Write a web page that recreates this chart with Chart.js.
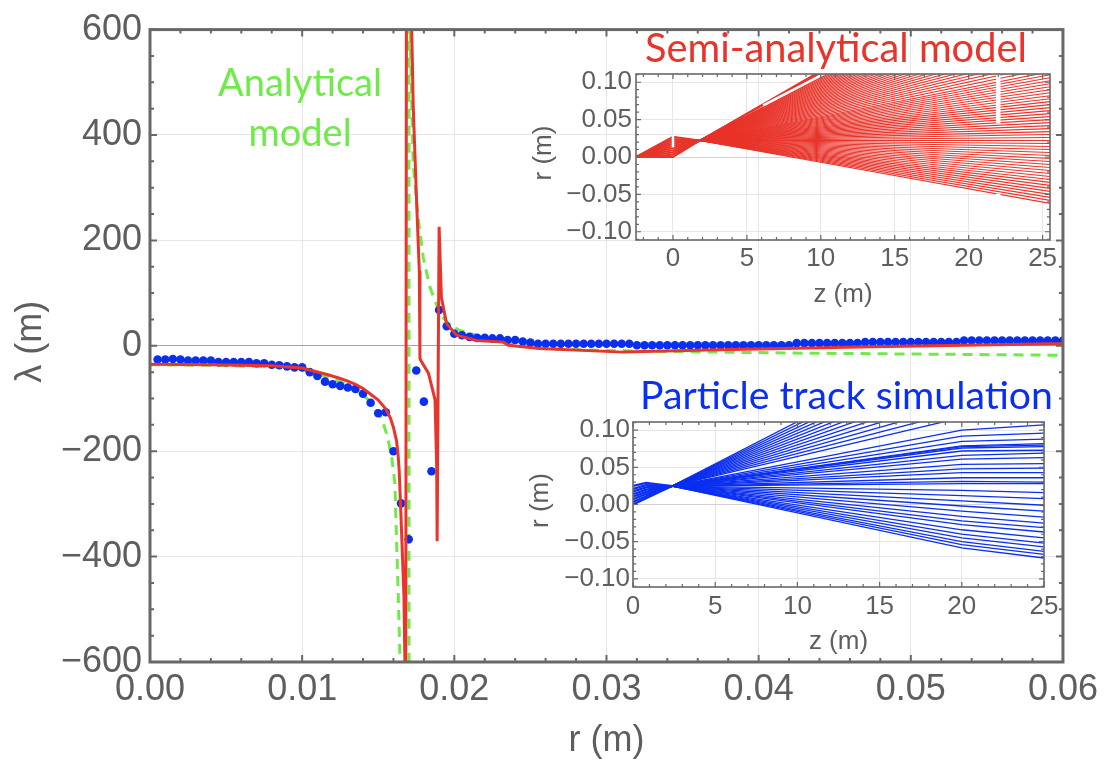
<!DOCTYPE html>
<html>
<head>
<meta charset="utf-8">
<title>lambda vs r</title>
<script src="https://cdn.jsdelivr.net/npm/chart.js@4.4.1/dist/chart.umd.min.js"></script>
<style>
  html, body { margin: 0; padding: 0; background: #fff; }
  #stage { position: relative; width: 1104px; height: 761px; overflow: hidden; }
  #stage canvas { position: absolute; }
</style>
</head>
<body>
<div id="stage">
  <canvas id="mainChart" width="1104" height="761" style="left:0;top:0"></canvas>
  <canvas id="semiChart" width="580" height="280" style="left:500px;top:40px"></canvas>
  <canvas id="trackChart" width="580" height="290" style="left:500px;top:390px"></canvas>
</div>
<script>
// ---- main plot: lambda (m) against r (m) ----
const rTicks = [0, 0.01, 0.02, 0.03, 0.04, 0.05, 0.06];
const lambdaTicks = [-600, -400, -200, 0, 200, 400, 600];

// particle track simulation (blue dots)
const dotR = [
  0.0005, 0.0010, 0.0015, 0.0020, 0.0025, 0.0030, 0.0035, 0.0040, 0.0045, 0.0050,
  0.0055, 0.0060, 0.0065, 0.0070, 0.0075, 0.0080, 0.0085, 0.0090, 0.0095, 0.0100,
  0.0105, 0.0110, 0.0115, 0.0120, 0.0125, 0.0130, 0.0135, 0.0140, 0.0145, 0.0150,
  0.0155, 0.0160, 0.0165, 0.0170, 0.0175, 0.0180, 0.0185, 0.0190, 0.0195, 0.0200,
  0.0205, 0.0210, 0.0215, 0.0220, 0.0225, 0.0230, 0.0235, 0.0240, 0.0245, 0.0250,
  0.0255, 0.0260, 0.0265, 0.0270, 0.0275, 0.0280, 0.0285, 0.0290, 0.0295, 0.0300,
  0.0305, 0.0310, 0.0315, 0.0320, 0.0325, 0.0330, 0.0335, 0.0340, 0.0345, 0.0350,
  0.0355, 0.0360, 0.0365, 0.0370, 0.0375, 0.0380, 0.0385, 0.0390, 0.0395, 0.0400,
  0.0405, 0.0410, 0.0415, 0.0420, 0.0425, 0.0430, 0.0435, 0.0440, 0.0445, 0.0450,
  0.0455, 0.0460, 0.0465, 0.0470, 0.0475, 0.0480, 0.0485, 0.0490, 0.0495, 0.0500,
  0.0505, 0.0510, 0.0515, 0.0520, 0.0525, 0.0530, 0.0535, 0.0540, 0.0545, 0.0550,
  0.0555, 0.0560, 0.0565, 0.0570, 0.0575, 0.0580, 0.0585, 0.0590, 0.0595, 0.0600
];
const dotLambda = [
  -26, -26, -25, -26, -28, -28, -28, -28, -31, -31,
  -31, -31, -31, -33, -33, -36, -37, -39, -41, -41,
  -50, -57, -68, -73, -76, -79, -82, -91, -108, -128,
  -126, -200, -299, -367, -47, -106, -238, 68, 37, 23,
  20, 17, 15, 15, 14, 14, 11, 11, 8, 6,
  4, 4, 4, 4, 4, 4, 4, 4, 4, 4,
  4, 4, 4, 1, 1, 1, 1, 1, 1, 1,
  1, 1, 1, 1, 1, 1, 1, 1, 1, 1,
  1, 1, 1, 1, 5, 5, 5, 5, 5, 5,
  5, 5, 5, 7, 7, 7, 7, 7, 7, 7,
  7, 7, 7, 7, 7, 7, 10, 10, 10, 10,
  10, 10, 10, 10, 10, 10, 10, 10, 10, 10
];

// semi-analytical model (red line)
const semiR = [
  0, 0.004, 0.006, 0.008, 0.010, 0.0117, 0.0125, 0.0130, 0.0135, 0.0140,
  0.0145, 0.0150, 0.0155, 0.0158, 0.0160, 0.0162, 0.0163, 0.01638, 0.0165, 0.01669,
  0.01675, 0.0168, 0.01686, 0.0170, 0.0172, 0.0173, 0.01753, 0.0177, 0.01774, 0.01774,
  0.0178, 0.0183, 0.01873, 0.01884, 0.01887, 0.0190, 0.01915, 0.01949, 0.02015, 0.02147,
  0.02322, 0.02355, 0.0256, 0.0311, 0.0366, 0.0475, 0.0594, 0.0600
];
const semiLambda = [
  -35, -36, -37, -38, -42, -55, -62, -67, -73, -81,
  -92, -103, -120, -137, -155, -180, -205, -239, -327, -477,
  -596, -900, 900, 900, 600, 454, 267, 142, -1, -24,
  -28, -52, -102, -227, -371, 226, 92, 42, 20, 10,
  7, 1, -5, -12, -8, -2, 4, 4
];

// analytical model (green dashed line)
const anaR = [
  0, 0.004, 0.0082, 0.010, 0.011, 0.0121, 0.0132, 0.0143, 0.0152, 0.0156,
  0.0159, 0.0161, 0.01616, 0.01632, 0.01643, 0.0166, 0.01702, 0.01702, 0.01709, 0.0173,
  0.01763, 0.01796, 0.0184, 0.01906, 0.01971, 0.02037, 0.02103, 0.0220, 0.0235, 0.0256,
  0.0300, 0.0344, 0.0431, 0.0519, 0.0600
];
const anaLambda = [
  -36, -37, -40, -45, -53, -63, -77, -101, -136, -171,
  -215, -262, -327, -477, -596, -900, -900, 900, 600, 342,
  242, 167, 111, 60, 39, 29, 23, 15, 6, -5,
  -9, -11, -14, -16, -18
];

// ---- inset 1: semi-analytical ray traces, r (m) against z (m) ----
const zTicks = [0, 5, 10, 15, 20, 25];
const insetRTicks = [-0.10, -0.05, 0, 0.05, 0.10];
const semiRayZ = [-2.5, 0, 1.8, 25.5];          // source, aperture, focus, end of plot
const semiSourceR = 0;
const semiFocusR = 0.022;
const semiApertureR = [0, 0.003, 0.006, 0.009, 0.012, 0.015, 0.018, 0.021, 0.024, 0.027];
const semiEndR = [
  -0.062, -0.058, -0.054, -0.050, -0.046, -0.042, -0.038, -0.034, -0.030, -0.026,
  -0.022, -0.018, -0.014, -0.010, -0.006, -0.002, 0.002, 0.006, 0.010, 0.014,
  0.018, 0.022, 0.026, 0.030, 0.034, 0.038, 0.042, 0.046, 0.050, 0.054,
  0.058, 0.062, 0.066, 0.070, 0.074, 0.078, 0.082, 0.086, 0.090, 0.094,
  0.098, 0.102, 0.106, 0.110, 0.114, 0.119, 0.124, 0.129, 0.134, 0.139,
  0.144, 0.149, 0.154, 0.159, 0.164, 0.169, 0.174, 0.179, 0.184, 0.189,
  0.194, 0.199, 0.204, 0.209, 0.214, 0.219, 0.224, 0.229, 0.234, 0.239,
  0.244, 0.249, 0.254, 0.259, 0.264, 0.268, 0.281, 0.284, 0.287, 0.290,
  0.293
];
// white gaps cut through the red traces: from (z1, r1) to (z2, r2)
const semiGapZ1 = [0, 22, 22, 6.1];
const semiGapR1 = [0.013, 0.045, -0.058, 0.069];
const semiGapZ2 = [0, 22, 22, 10.3];
const semiGapR2 = [0.029, 0.112, -0.049, 0.112];

// ---- inset 2: particle tracks ----
const trackZ = [0, 0.8, 2.37, 20, 25];
const trackFocusR = 0.0248;
const trackInR0 = [0, 0.0035, 0.007, 0.0105, 0.014, 0.0175, 0.021, 0.025];
const trackInR1 = [0.0085, 0.011, 0.014, 0.017, 0.020, 0.023, 0.026, 0.029];
const trackR20 = [
  0.225, 0.216, 0.207, 0.198, 0.189, 0.180, 0.171, 0.162, 0.153, 0.144,
  0.135, 0.126, 0.117, 0.100, 0.092, 0.085, 0.079, 0.078, 0.076, 0.072,
  0.066, 0.061, 0.054, 0.048, 0.043, 0.036, 0.031, 0.028, 0.019, 0.012,
  0.005, -0.002, -0.009, -0.016, -0.022, -0.027, -0.034, -0.040, -0.045, -0.050,
  -0.054, -0.0585
];
const trackR25 = [
  0.235, 0.226, 0.217, 0.208, 0.199, 0.190, 0.181, 0.172, 0.163, 0.154,
  0.145, 0.136, 0.127, 0.107, 0.096, 0.088, 0.082, 0.080, 0.078, 0.073,
  0.069, 0.063, 0.055, 0.049, 0.043, 0.036, 0.030, 0.028, 0.016, 0.008,
  -0.001, -0.009, -0.017, -0.025, -0.031, -0.037, -0.045, -0.052, -0.057, -0.063,
  -0.067, -0.072
];

// ---- styling ----
const NUM_FONT = '"Liberation Sans", Arial, Helvetica, sans-serif';
const TEXT_FONT = 'Lato, "Open Sans", sans-serif';
const AXIS_GRAY = '#5e5e5e';
const FRAME_GRAY = '#686868';
const GRID = '#e6e6e6';
const RED = '#e8342a';
const BLUE = '#0b2ff0';
const GREEN = '#70ea4a';

const pts = (xs, ys) => xs.map((x, i) => ({ x, y: ys[i] }));
const minusSign = s => String(s).replace('-', '\u2212');

// Mathematica-like frame: box with inward ticks on all four sides
function makeFrame(o){
  return {
    id: 'frame',
    afterDatasetsDraw(chart){
      const { ctx, chartArea: a, scales: { x, y } } = chart;
      ctx.save();
      ctx.strokeStyle = o.color;
      ctx.lineWidth = o.tickWidth;
      const major = (v, list, step) => list.some(m => Math.abs(m - v) < step * 0.01);
      for(let i = 0; ; i++){
        const v = o.xFrom + i * o.xStep;
        if(v > x.max + o.xStep * 0.01) break;
        if(v < x.min) continue;
        const px = x.getPixelForValue(v);
        const len = major(v, o.xMajor, o.xStep) ? o.major : o.minor;
        ctx.beginPath();
        ctx.moveTo(px, a.bottom); ctx.lineTo(px, a.bottom - len);
        ctx.moveTo(px, a.top); ctx.lineTo(px, a.top + len);
        ctx.stroke();
      }
      for(let i = 0; ; i++){
        const v = o.yFrom + i * o.yStep;
        if(v > y.max + o.yStep * 0.01) break;
        if(v < y.min) continue;
        const py = y.getPixelForValue(v);
        const len = major(v, o.yMajor, o.yStep) ? o.major : o.minor;
        ctx.beginPath();
        ctx.moveTo(a.left, py); ctx.lineTo(a.left + len, py);
        ctx.moveTo(a.right, py); ctx.lineTo(a.right - len, py);
        ctx.stroke();
      }
      ctx.lineWidth = o.width;
      ctx.strokeRect(a.left, a.top, a.right - a.left, a.bottom - a.top);
      ctx.restore();
    }
  };
}

function makeText(draw){
  return { id: 'texts', afterDraw(chart){ const c = chart.ctx; c.save(); draw(chart, c); c.restore(); } };
}

// font size that makes `text` span `width` px
function fitSize(ctx, text, width){
  ctx.font = `100px ${TEXT_FONT}`;
  return 100 * width / ctx.measureText(text).width;
}

function drawNote(ctx, text, x, base, size, color, align){
  ctx.font = `${size}px ${TEXT_FONT}`;
  ctx.fillStyle = color;
  ctx.textAlign = align;
  ctx.textBaseline = 'alphabetic';
  ctx.fillText(text, x, base);
}

function axisTitles(ctx, a, xText, yText, size, below, leftOff){
  ctx.font = `${size}px ${NUM_FONT}`;
  ctx.fillStyle = AXIS_GRAY;
  ctx.textAlign = 'center';
  ctx.textBaseline = 'alphabetic';
  ctx.fillText(xText, (a.left + a.right) / 2, a.bottom + below);
  ctx.translate(a.left - leftOff, (a.top + a.bottom) / 2 - 4);
  ctx.rotate(-Math.PI / 2);
  ctx.fillText(yText, 0, 0);
}

const baseOptions = {
  responsive: false,
  animation: false,
  devicePixelRatio: 1,
  events: [],
  plugins: { legend: { display: false }, tooltip: { enabled: false } }
};

// ---- main chart ----
new Chart(document.getElementById('mainChart'), {
  type: 'scatter',
  data: {
    datasets: [
      { data: pts(semiR, semiLambda), showLine: true, borderColor: RED, borderWidth: 3, pointRadius: 0, tension: 0 },
      { data: pts(dotR, dotLambda), showLine: false, pointRadius: 4.3, backgroundColor: BLUE, borderWidth: 0 },
      { data: pts(anaR, anaLambda), showLine: true, borderColor: GREEN, borderWidth: 3, borderDash: [10, 7], pointRadius: 0, tension: 0 }
    ]
  },
  options: {
    ...baseOptions,
    layout: { padding: { top: 22, right: 41, left: 0, bottom: 0 } },
    scales: {
      x: {
        type: 'linear', min: 0, max: 0.06,
        afterBuildTicks: s => { s.ticks = rTicks.map(v => ({ value: v })); },
        afterFit: s => { s.height = 99; },
        grid: { drawTicks: false, color: c => (c.tick.value > 0 && c.tick.value < 0.06) ? GRID : 'rgba(0,0,0,0)' },
        border: { display: false },
        ticks: { padding: 6, maxRotation: 0, autoSkip: false, color: AXIS_GRAY, font: { family: NUM_FONT, size: 36 },
          callback: v => v.toFixed(2) }
      },
      y: {
        type: 'linear', min: -600, max: 600,
        afterBuildTicks: s => { s.ticks = lambdaTicks.map(v => ({ value: v })); },
        afterFit: s => { s.width = 150; },
        grid: { drawTicks: false, color: c => c.tick.value === 0 ? '#a4a4a4' : (Math.abs(c.tick.value) === 600 ? 'rgba(0,0,0,0)' : GRID) },
        border: { display: false },
        ticks: { padding: 8, color: AXIS_GRAY, font: { family: NUM_FONT, size: 36 }, callback: v => minusSign(v) }
      }
    }
  },
  plugins: [
    makeFrame({ color: FRAME_GRAY, width: 3, tickWidth: 2, major: 7, minor: 4,
      xFrom: 0, xStep: 0.002, xMajor: rTicks, yFrom: -600, yStep: 50, yMajor: lambdaTicks }),
    makeText((chart, ctx) => {
      const green = fitSize(ctx, 'Analytical', 164);
      drawNote(ctx, 'Analytical', 300, 96, green, GREEN, 'center');
      drawNote(ctx, 'model', 300, 146, green, GREEN, 'center');
      drawNote(ctx, 'Semi-analytical model', 645, 62, fitSize(ctx, 'Semi-analytical model', 382), RED, 'left');
      drawNote(ctx, 'Particle track simulation', 640, 409, fitSize(ctx, 'Particle track simulation', 413), BLUE, 'left');
      axisTitles(ctx, chart.chartArea, 'r (m)', '\u03bb (m)', 36, 89, 109);
    })
  ]
});

// ---- inset charts ----
function insetScales(xMin, xMax, yWidth, xHeight, yPad, xPad){
  const tickFont = { family: NUM_FONT, size: 26 };
  return {
    x: {
      type: 'linear', min: xMin, max: xMax,
      afterBuildTicks: s => { s.ticks = zTicks.map(v => ({ value: v })); },
      afterFit: s => { s.height = xHeight; },
      grid: { drawTicks: false, color: GRID },
      border: { display: false },
      ticks: { padding: xPad, maxRotation: 0, autoSkip: false, color: AXIS_GRAY, font: tickFont, callback: v => String(v) }
    },
    y: {
      type: 'linear', min: -0.111, max: 0.111,
      afterBuildTicks: s => { s.ticks = insetRTicks.map(v => ({ value: v })); },
      afterFit: s => { s.width = yWidth; },
      grid: { drawTicks: false, color: c => c.tick.value === 0 ? '#d2d2d2' : GRID },
      border: { display: false },
      ticks: { padding: yPad, color: AXIS_GRAY, font: tickFont, callback: v => minusSign(v.toFixed(2)) }
    }
  };
}

const insetFrame = () => makeFrame({ color: FRAME_GRAY, width: 1.6, tickWidth: 1.2, major: 5, minor: 3,
  xFrom: -2, xStep: 1, xMajor: zTicks, yFrom: -0.11, yStep: 0.01, yMajor: insetRTicks });

// semi-analytical traces
const semiSets = [];
semiGapZ1.forEach((z, i) => semiSets.push({
  data: [{ x: z, y: semiGapR1[i] }, { x: semiGapZ2[i], y: semiGapR2[i] }],
  showLine: true, borderColor: '#ffffff', borderWidth: (i === 1 || i === 2) ? 4.5 : 2.5, pointRadius: 0
}));
semiApertureR.forEach(a => semiSets.push({
  data: [{ x: semiRayZ[0], y: semiSourceR }, { x: semiRayZ[1], y: a }, { x: semiRayZ[2], y: semiFocusR }],
  showLine: true, borderColor: RED, borderWidth: 2, pointRadius: 0
}));
semiEndR.forEach(e => semiSets.push({
  data: [{ x: semiRayZ[2], y: semiFocusR }, { x: semiRayZ[3], y: e }],
  showLine: true, borderColor: RED, borderWidth: 1.1, pointRadius: 0
}));

new Chart(document.getElementById('semiChart'), {
  type: 'scatter',
  data: { datasets: semiSets },
  options: {
    ...baseOptions,
    layout: { padding: { top: 34, right: 30, left: 0, bottom: 0 } },
    scales: insetScales(-2.5, 25.5, 136, 80, 4, 3)
  },
  plugins: [
    insetFrame(),
    makeText((chart, ctx) => axisTitles(ctx, chart.chartArea, 'z (m)', 'r (m)', 26, 62, 85))
  ]
});

// particle tracks
const trackSets = [];
trackInR0.forEach((r0, i) => trackSets.push({
  data: [{ x: trackZ[0], y: r0 }, { x: trackZ[1], y: trackInR1[i] }, { x: trackZ[2], y: trackFocusR }],
  showLine: true, borderColor: BLUE, borderWidth: 2.2, pointRadius: 0
}));
trackR20.forEach((r20, i) => trackSets.push({
  data: [{ x: trackZ[2], y: trackFocusR }, { x: trackZ[3], y: r20 }, { x: trackZ[4], y: trackR25[i] }],
  showLine: true, borderColor: BLUE, borderWidth: 1.3, pointRadius: 0
}));

new Chart(document.getElementById('trackChart'), {
  type: 'scatter',
  data: { datasets: trackSets },
  options: {
    ...baseOptions,
    layout: { padding: { top: 32, right: 36, left: 0, bottom: 0 } },
    scales: insetScales(0, 25, 133, 93, 3, 4)
  },
  plugins: [
    insetFrame(),
    makeText((chart, ctx) => axisTitles(ctx, chart.chartArea, 'z (m)', 'r (m)', 26, 62, 85))
  ]
});
</script>
</body>
</html>
